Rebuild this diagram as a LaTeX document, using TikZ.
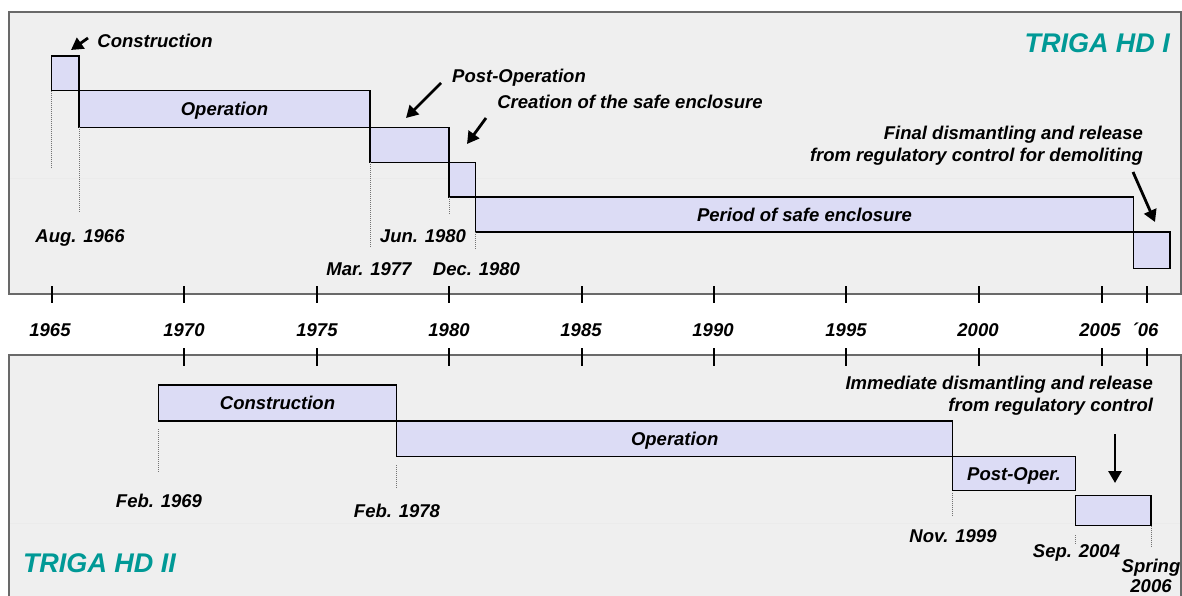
\documentclass[tikz,border=0pt]{standalone}
\usepackage{fontspec}
\setmainfont{Liberation Sans}
\usetikzlibrary{arrows.meta}
\definecolor{panelgray}{RGB}{239,239,239}
\definecolor{panelline}{RGB}{105,105,105}
\definecolor{phasefill}{RGB}{220,220,245}
\definecolor{trigateal}{RGB}{0,153,150}

\begin{document}
\begin{tikzpicture}
  [x=1pt,y=-1pt,
   every node/.style={font=\bfseries\itshape\fontsize{18.5}{22}\selectfont,inner sep=0pt,outer sep=0pt},
   phase/.style={draw=black,line width=1.1pt,fill=phasefill,anchor=north west,text height=13pt,text depth=0pt},
   date/.style={anchor=base},
   title/.style={text=trigateal,font=\bfseries\itshape\fontsize{27}{32}\selectfont},
   drop/.style={black!55,line width=0.8pt,dash pattern=on 1pt off 1pt},
   arr/.style={line width=2.8pt,-{Triangle[length=12pt,width=13pt]}},
   yeartick/.style={line width=2pt}]
  \useasboundingbox (0,0) rectangle (1182,596);
  \fill[white] (0,0) rectangle (1182,596);
  % the two panels
  \draw[panelline,fill=panelgray,line width=1.5pt] (9,12) rectangle (1181,294);
  \draw[panelline,fill=panelgray,line width=1.5pt] (9,355) rectangle (1181,620);
  \draw[black!8,line width=1pt] (10,179) -- (1180,179);
  \draw[black!8,line width=1pt] (10,523) -- (1180,523);

  % TRIGA HD I
  \node[phase,minimum width=27.3pt,minimum height=34.7pt] (t1) at (51.7,56) {};
  \node[phase,minimum width=291pt,minimum height=36.6pt] (t2) at (79,90.7) {Operation};
  \node[phase,minimum width=79pt,minimum height=35pt] (t3) at (370,127.3) {};
  \node[phase,minimum width=26.7pt,minimum height=34.7pt] (t4) at (449,162.3) {};
  \node[phase,minimum width=657.6pt,minimum height=35pt] (t5) at (475.7,197) {Period of safe enclosure};
  \node[phase,minimum width=36.7pt,minimum height=36.3pt] (t6) at (1133.3,232) {};

  \node[date] (lcon) at (155,48) {Construction};
  \node[date] (lpost) at (519,83) {Post-Operation};
  \node[date] (lcre) at (630,109) {Creation of the safe enclosure};
  \node[anchor=east,align=right] (lfin) at (1143,146) {Final dismantling and release\\from regulatory control for demoliting};
  \node[date] (d1) at (80,242) {Aug. 1966};
  \node[date] (d2) at (369,275) {Mar. 1977};
  \node[date] (d3) at (423,242) {Jun. 1980};
  \node[date] (d4) at (476.5,275) {Dec. 1980};
  \node[title,anchor=base east] (hd1) at (1170,53) {TRIGA HD I};

  % TRIGA HD II
  \node[phase,minimum width=238.4pt,minimum height=36pt] (b1) at (158.3,385) {Construction};
  \node[phase,minimum width=556pt,minimum height=35.5pt] (b2) at (396.7,421) {Operation};
  \node[phase,minimum width=122.6pt,minimum height=34.2pt] (b3) at (952.7,456.5) {Post-Oper.};
  \node[phase,minimum width=75.7pt,minimum height=30pt] (b4) at (1075.3,495.7) {};

  \node[anchor=east,align=right] (limm) at (1153,396) {Immediate dismantling and release\\from regulatory control};
  \node[date] (d5) at (159,507) {Feb. 1969};
  \node[date] (d6) at (397,517) {Feb. 1978};
  \node[date] (d7) at (953,542) {Nov. 1999};
  \node[date] (d8) at (1076.5,557) {Sep. 2004};
  \node[align=center,font=\bfseries\itshape\fontsize{18.5}{20}\selectfont] (d9) at (1151,576) {Spring\\2006};
  \node[title,anchor=base west] (hd2) at (23,572) {TRIGA HD II};

  % time axis
  \foreach \x/\yr [count=\i] in {50/1965,184/1970,317/1975,449/1980,581/1985,713/1990,846/1995,978/2000,1100/2005,1145/´06}
    \node[date] (yr\i) at (\x,336) {\yr};
  \foreach \x in {51.7,184.3,316.7,449,581.5,713.5,846,978.5,1102,1147}
    \draw[yeartick] (\x,286) -- (\x,303);
  \foreach \x in {184.3,316.7,449,581.5,713.5,846,978.5,1102,1147}
    \draw[yeartick] (\x,348) -- (\x,366);

  \foreach \n/\s/\l in {t1/0/77,t2/0/86,t3/0/86,t4/0/17,t5/0/17,b1/8/43,b2/8.5/24,b3/2/24,b4/9.3/10}
    \draw[drop] ([yshift=-\s pt]\n.south west) -- ++(0,\l);
  \draw[drop] (b4.south east) -- ++(0,21);

  \coordinate (a1s) at (88,38);    \coordinate (a1e) at (71,50);
  \coordinate (a2s) at (441,83);   \coordinate (a2e) at (406,118);
  \coordinate (a3s) at (486,118);  \coordinate (a3e) at (467,144);
  \coordinate (a4s) at (1133,172); \coordinate (a4e) at (1155,222);
  \coordinate (a5s) at (1115,434); \coordinate (a5e) at (1115,483);
  \foreach \a in {a1,a2,a3,a4,a5}
    \draw[arr] (\a s) -- (\a e);
\end{tikzpicture}
\end{document}
